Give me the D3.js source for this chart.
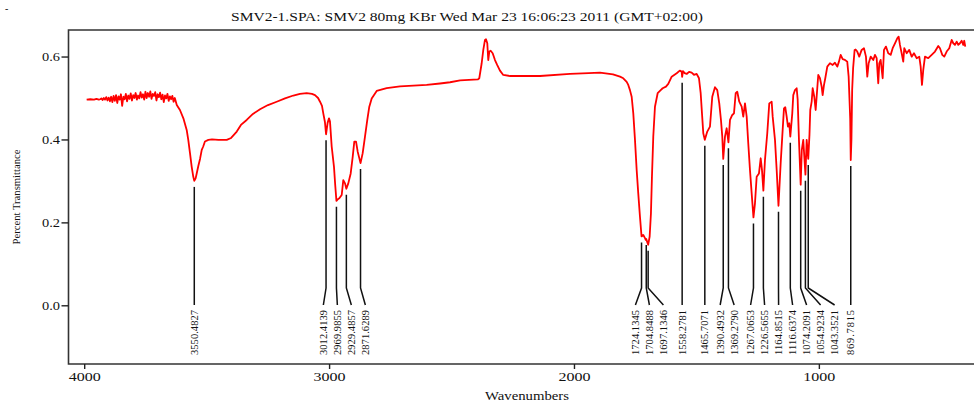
<!DOCTYPE html>
<html><head><meta charset="utf-8">
<script src="https://cdn.jsdelivr.net/npm/d3@7"></script>
<style>body{margin:0;background:#fff} svg{display:block} text{font-family:"Liberation Serif","Times New Roman",serif;fill:#111}</style>
</head><body><svg id="c" width="974" height="405"></svg>
<script>
const titleText = "SMV2-1.SPA: SMV2 80mg KBr Wed Mar 23 16:06:23 2011 (GMT+02:00)";
const xLabel = "Wavenumbers";
const yLabel = "Percent Transmittance";
const xTicks = [4000, 3000, 2000, 1000];
const yTicks = [0.0, 0.2, 0.4, 0.6];

const wavenumbers = [3990,3975,3960,3950,3940,3935,3930,3925,3920,3915,3910,3905,3900,3895,3890,3885,3880,3875,3870,3865,3860,3855,3850,3845,3840,3835,3830,3825,3820,3815,3810,3805,3800,3795,3790,3785,3780,3775,3770,3765,3760,3755,3750,3745,3740,3735,3730,3725,3720,3715,3710,3705,3700,3695,3690,3685,3680,3675,3670,3665,3660,3655,3650,3645,3640,3635,3630,3622,3609,3595,3581.5,3575,3568,3561,3554.5,3550.5,3545,3540.6,3534,3527,3520,3514,3507,3493,3478,3452,3418,3400,3377,3360,3336.5,3311,3282,3249.5,3214,3180,3146,3119,3091.5,3070,3057.6,3045,3037,3029,3023.7,3017,3012.4,3006,3000.4,2996.3,2989.4,2980,2975,2970,2964,2958.3,2948.5,2942,2935,2929.5,2921.6,2911.8,2903.6,2897,2890,2883.2,2876.7,2871.6,2862.8,2853.4,2844,2835.8,2826,2805.6,2764.8,2710.5,2601.5,2547,2506,2465,2392,2386.7,2376.9,2370.3,2363.4,2359.3,2354,2350,2345.8,2340.1,2332,2322.6,2313.2,2302.2,2288.7,2261.3,2138.8,2016.3,1940,1893.8,1840.7,1812,1798.6,1784.8,1778.3,1771.4,1764.4,1757.8,1750.9,1744,1737.5,1730.5,1724.1,1717,1710,1707,1704.8,1700.7,1697.1,1691,1685.7,1681.6,1676.2,1669.3,1658.3,1644.8,1637.9,1624.4,1615,1601.1,1580.6,1568,1560.2,1558.3,1555,1548,1539.8,1530,1519.4,1510,1499,1489.6,1482.6,1477.3,1472,1465.7,1455.7,1444.7,1435.3,1424.3,1414.9,1406.7,1399.8,1394.4,1390.5,1383.4,1376.5,1369.3,1362.9,1353.6,1346.6,1339.7,1333.2,1325,1315.2,1308.7,1301.7,1294.8,1288.3,1281.3,1274.4,1267.1,1260.9,1254,1244.6,1237.6,1232.3,1226.6,1220.1,1210.7,1202.5,1192.7,1188.6,1179.2,1172.3,1164.9,1156,1149.5,1142.5,1137.2,1131.5,1126.2,1120.9,1116.6,1108.6,1104.5,1097.6,1090.6,1086.6,1081.3,1074.2,1069.7,1063.7,1054.9,1049.8,1043.4,1038.4,1035.1,1029.4,1025.3,1018.8,1013.1,1006.5,1002.5,995.5,988.5,984.5,979.2,973.8,965.6,954.7,943.6,934.3,924.8,918,911,902.8,893.4,884.1,878.4,872,869.8,867,864,860,854,850,843.3,835.1,825.3,815.9,807.7,802.3,796.7,788.5,777.8,770.9,764,757.5,753.3,747.7,739.5,734.1,726,716.6,706.8,698.6,689.2,679.9,674.2,668.9,661.9,655.4,651.3,641.5,630.9,621,611.7,600.7,590,584.3,579,573.7,566.7,553.2,539.4,525.9,512.4,505.5,496,487.9,478.1,467.5,457.7,451.1,444.2,437.3,430.8,423.8,416.9,410.4,406.3,402.2];

const transmittance = [0.496,0.497,0.496,0.498,0.496,0.497,0.499,0.495,0.500,0.496,0.502,0.494,0.501,0.492,0.503,0.490,0.505,0.493,0.507,0.488,0.504,0.496,0.509,0.481,0.503,0.497,0.510,0.492,0.506,0.498,0.511,0.494,0.507,0.500,0.512,0.496,0.506,0.499,0.514,0.501,0.509,0.496,0.515,0.500,0.512,0.503,0.516,0.498,0.510,0.505,0.514,0.494,0.509,0.502,0.513,0.497,0.508,0.490,0.506,0.499,0.510,0.493,0.504,0.497,0.505,0.491,0.500,0.483,0.471,0.451,0.423,0.399,0.367,0.334,0.310,0.300,0.306,0.318,0.336,0.353,0.375,0.383,0.395,0.399,0.400,0.399,0.399,0.4036,0.419,0.435,0.447,0.4615,0.473,0.483,0.491,0.499,0.506,0.510,0.5115,0.510,0.507,0.500,0.491,0.481,0.463,0.442,0.4125,0.440,0.451,0.443,0.383,0.334,0.290,0.252,0.256,0.258,0.266,0.302,0.294,0.281,0.294,0.318,0.358,0.395,0.395,0.3705,0.355,0.343,0.367,0.407,0.447,0.479,0.499,0.517,0.524,0.528,0.5315,0.535,0.538,0.5423,0.5447,0.5476,0.5838,0.6159,0.640,0.6417,0.632,0.5915,0.612,0.614,0.608,0.5915,0.5793,0.566,0.5556,0.553,0.553,0.558,0.560,0.561,0.557,0.5515,0.5476,0.539,0.5315,0.519,0.503,0.463,0.399,0.3264,0.270,0.2137,0.166,0.1696,0.162,0.158,0.160,0.152,0.146,0.1655,0.222,0.310,0.4067,0.479,0.5115,0.5194,0.5235,0.5274,0.534,0.5515,0.5597,0.566,0.5636,0.551,0.565,0.560,0.558,0.563,0.561,0.556,0.558,0.5476,0.5115,0.463,0.415,0.399,0.419,0.431,0.503,0.526,0.519,0.487,0.447,0.4067,0.353,0.4067,0.427,0.393,0.447,0.459,0.463,0.5115,0.515,0.491,0.479,0.455,0.487,0.455,0.391,0.3264,0.270,0.212,0.246,0.310,0.318,0.3546,0.3264,0.2765,0.3505,0.415,0.487,0.491,0.455,0.399,0.3264,0.240,0.3426,0.4067,0.475,0.4777,0.455,0.431,0.439,0.4067,0.463,0.507,0.519,0.5235,0.4965,0.399,0.291,0.3747,0.399,0.315,0.399,0.353,0.411,0.471,0.491,0.5235,0.503,0.471,0.5235,0.5556,0.5476,0.527,0.507,0.531,0.5476,0.5756,0.5838,0.5797,0.585,0.5756,0.5877,0.604,0.5935,0.5918,0.5877,0.5515,0.450,0.3505,0.400,0.520,0.5734,0.6159,0.617,0.612,0.5997,0.616,0.620,0.5997,0.5515,0.5838,0.5997,0.5918,0.604,0.596,0.5356,0.5838,0.5918,0.5476,0.616,0.624,0.608,0.604,0.620,0.632,0.644,0.648,0.628,0.608,0.5877,0.620,0.608,0.616,0.5997,0.608,0.596,0.5997,0.5756,0.5315,0.5677,0.5997,0.596,0.604,0.612,0.6256,0.620,0.604,0.5997,0.612,0.620,0.640,0.632,0.628,0.636,0.628,0.632,0.638,0.628,0.638,0.624];

const peakWavenumbers = [3550.4827,3012.4139,2969.9855,2929.4857,2871.6289,1724.1345,1704.8488,1697.1346,1558.2781,1465.7071,1390.4932,1369.2790,1267.0653,1226.5655,1164.8515,1116.6374,1074.2091,1054.9234,1043.3521,869.7815];
const peakTransmittance = [0.300,0.4125,0.252,0.281,0.343,0.166,0.160,0.146,0.551,0.399,0.353,0.393,0.212,0.2765,0.240,0.4067,0.291,0.315,0.353,0.3505];

const svg = d3.select("#c");
const x = d3.scaleLinear().domain([4000, 400]).range([84.2, 965.8]);
const y = d3.scaleLinear().domain([-0.1416, 0.664]).range([364, 30]);
const frameLeft = 68.5, frameTop = 30, frameBottom = 364, frameRight = 995;

svg.append("text").attr("x", 5).attr("y", 12).attr("font-size", 10).text("-");
svg.append("text").attr("x", 467).attr("y", 21).attr("text-anchor", "middle")
  .attr("font-size", 13).attr("textLength", 472).attr("lengthAdjust", "spacingAndGlyphs").text(titleText);

svg.append("path")
  .attr("d", `M${frameRight},${frameTop}H${frameLeft}V${frameBottom}H${frameRight}`)
  .attr("fill", "none").attr("stroke", "#333").attr("stroke-width", 1.6);

const gx = svg.append("g").attr("transform", `translate(0,${frameBottom})`)
  .call(d3.axisBottom(x).tickValues(xTicks).tickSize(5).tickPadding(3).tickFormat(d3.format("d")));
gx.select(".domain").remove();
gx.selectAll(".tick line").attr("stroke", "#222").attr("stroke-width", 1.4);
gx.selectAll(".tick text").attr("font-family", "Liberation Serif").attr("font-size", 12).attr("fill", "#111")
  .attr("textLength", 32).attr("lengthAdjust", "spacingAndGlyphs");

const gy = svg.append("g").attr("transform", `translate(${frameLeft},0)`)
  .call(d3.axisLeft(y).tickValues(yTicks).tickSize(7).tickPadding(1.5).tickFormat(d3.format(".1f")));
gy.select(".domain").remove();
gy.selectAll(".tick line").attr("stroke", "#222").attr("stroke-width", 1.4);
gy.selectAll(".tick text").attr("font-family", "Liberation Serif").attr("font-size", 12).attr("fill", "#111")
  .attr("textLength", 18).attr("lengthAdjust", "spacingAndGlyphs");

svg.append("text").attr("x", 527).attr("y", 400).attr("text-anchor", "middle")
  .attr("font-size", 12).attr("textLength", 84).attr("lengthAdjust", "spacingAndGlyphs").text(xLabel);
svg.append("text").attr("transform", "translate(20,197) rotate(-90)").attr("text-anchor", "middle")
  .attr("font-size", 11).attr("textLength", 95).attr("lengthAdjust", "spacingAndGlyphs").text(yLabel);

// peak labels: spread apart so they do not overlap
const gap = 14;
const lp = peakWavenumbers.map(w => x(w));
for (let it = 0; it < 400; it++) {
  for (let i = 1; i < lp.length; i++) {
    const d = lp[i] - lp[i - 1];
    if (d < gap) { const s = (gap - d); lp[i - 1] -= s * 0.35; lp[i] += s * 0.65; }
  }
}
const peaks = peakWavenumbers.map((w, i) => ({w, t: peakTransmittance[i], lx: lp[i]}));
svg.append("g").selectAll("path").data(peaks).join("path")
  .attr("d", d => `M${x(d.w)},${y(d.t) + 6}V288L${d.lx},305`)
  .attr("fill", "none").attr("stroke", "#111").attr("stroke-width", 1.5);
svg.append("g").selectAll("text").data(peaks).join("text")
  .attr("transform", d => `translate(${d.lx},310) rotate(-90)`)
  .attr("text-anchor", "end").attr("dominant-baseline", "central")
  .attr("font-size", 10.5).attr("textLength", 45).attr("lengthAdjust", "spacing")
  .text(d => d.w.toFixed(4));

const pts = wavenumbers.map((w, i) => [w, transmittance[i]]);
svg.append("path").datum(pts)
  .attr("d", d3.line().x(d => x(d[0])).y(d => y(d[1])))
  .attr("fill", "none").attr("stroke", "#ff0000").attr("stroke-width", 1.8).attr("stroke-linejoin", "round");
</script></body></html>
